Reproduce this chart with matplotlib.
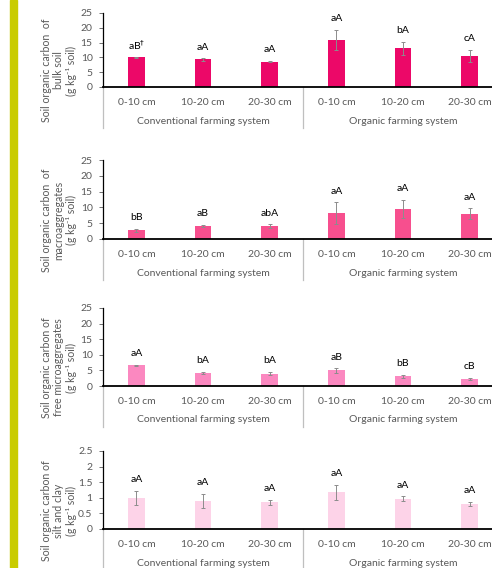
import matplotlib
matplotlib.use("Agg")
import matplotlib.pyplot as plt
import numpy as np

plt.rcParams['font.family'] = ['Lato', 'DejaVu Sans']

# data
depths = ['0-10 cm', '10-20 cm', '20-30 cm', '0-10 cm', '10-20 cm', '20-30 cm']
systems = ['Conventional farming system', 'Organic farming system']

bulk_mean = [10.0, 9.3, 8.6, 15.9, 13.1, 10.5]
bulk_err = [0.3, 0.4, 0.2, 3.5, 2.2, 2.0]
bulk_lab = ['aB$^{\\dagger}$', 'aA', 'aA', 'aA', 'bA', 'cA']

macro_mean = [2.7, 4.1, 4.0, 8.1, 9.5, 8.0]
macro_err = [0.6, 0.4, 0.6, 3.5, 3.0, 1.7]
macro_lab = ['bB', 'aB', 'abA', 'aA', 'aA', 'aA']

micro_mean = [6.6, 4.3, 4.0, 5.0, 3.1, 2.25]
micro_err = [0.2, 0.3, 0.6, 0.7, 0.4, 0.4]
micro_lab = ['aA', 'bA', 'bA', 'aB', 'bB', 'cB']

silt_mean = [1.0, 0.9, 0.85, 1.17, 0.97, 0.81]
silt_err = [0.22, 0.22, 0.08, 0.24, 0.08, 0.07]
silt_lab = ['aA', 'aA', 'aA', 'aA', 'aA', 'aA']

ylabels = ['Soil organic carbon  of\nbulk soil\n(g kg\u207b\u00b9 soil)',
           'Soil organic carbon  of\nmacroaggregates\n(g kg\u207b\u00b9 soil)',
           'Soil organic carbon of\nfree microaggregates\n(g kg\u207b\u00b9 soil)',
           'Soil organic carbon of\nsilt and clay\n(g kg\u207b\u00b9 soil)']

yticks_big = [0, 5, 10, 15, 20, 25]
yticks_small = [0, 0.5, 1, 1.5, 2, 2.5]
yticklabels_small = ['0', '0.5', '1', '1.5', '2', '2.5']

W, H = 492, 568
fig = plt.figure(figsize=(W / 100, H / 100), dpi=100)

# yellow side strip
fig.patches.append(plt.Rectangle((10 / W, 0), 7 / W, 1, transform=fig.transFigure,
                                 color='#C9CC00', zorder=0))

panels = [
    (bulk_mean, bulk_err, bulk_lab, '#EC0868', 13, 87, 25),
    (macro_mean, macro_err, macro_lab, '#F74F8E', 160, 239, 25),
    (micro_mean, micro_err, micro_lab, '#FB88C0', 308, 386, 25),
    (silt_mean, silt_err, silt_lab, '#FDD3E8', 451, 529, 2.5),
]

gray = '#595959'
x = np.arange(len(depths))

for i, (mean, err, lab, col, top, bot, ymax) in enumerate(panels):
    hpx = bot - top
    ax = fig.add_axes([103 / W, 1 - bot / H, 400 / W, hpx / H])
    ax.bar(x, mean, width=0.25, color=col, edgecolor='none', zorder=2)
    ax.errorbar(x, mean, yerr=err, fmt='none', ecolor='#8c8c8c', elinewidth=0.7,
                capsize=1.5, capthick=0.7, zorder=3)
    for xi, m, e, t in zip(x, mean, err, lab):
        ax.annotate(t, xy=(xi, m + e), xytext=(0, 8), textcoords='offset points',
                    ha='center', va='center', fontsize=7.5, color='black')
    ax.set_xlim(-0.5, 5.5)
    ax.set_ylim(0, ymax)
    if ymax > 5:
        ax.set_yticks(yticks_big)
    else:
        ax.set_yticks(yticks_small)
        ax.set_yticklabels(yticklabels_small)
    ax.set_xticks(x)
    ax.set_xticklabels(depths)
    ax.tick_params(axis='x', length=0, pad=8, labelsize=7.5, labelcolor=gray)
    ax.tick_params(axis='y', length=3, width=0.6, color=gray, pad=4.5,
                   labelsize=7.5, labelcolor=gray)
    for s in ['top', 'right']:
        ax.spines[s].set_visible(False)
    ax.spines['left'].set_linewidth(0.9)
    ax.spines['bottom'].set_linewidth(1.3)

    # separators below the axis
    sep = (47 if i == 3 else 41) / hpx
    for sx in [-0.5, 2.5]:
        ax.plot([sx, sx], [0, -sep], transform=ax.get_xaxis_transform(),
                clip_on=False, color='#bfbfbf', lw=0.9)
    for gx, g in zip([1, 4], systems):
        ax.annotate(g, xy=(gx, 0), xycoords=('data', 'axes fraction'),
                    xytext=(0, -34 * 0.72), textcoords='offset points',
                    ha='center', va='center', fontsize=7.5, color=gray)

    yc = 1 - (top + (bot + 41 - top) / 2) / H
    fig.text(59 / W, yc, ylabels[i], rotation=90, ha='center', va='center',
             fontsize=7.6, color=gray, linespacing=1.2)

fig.savefig('out.png', dpi=100)
